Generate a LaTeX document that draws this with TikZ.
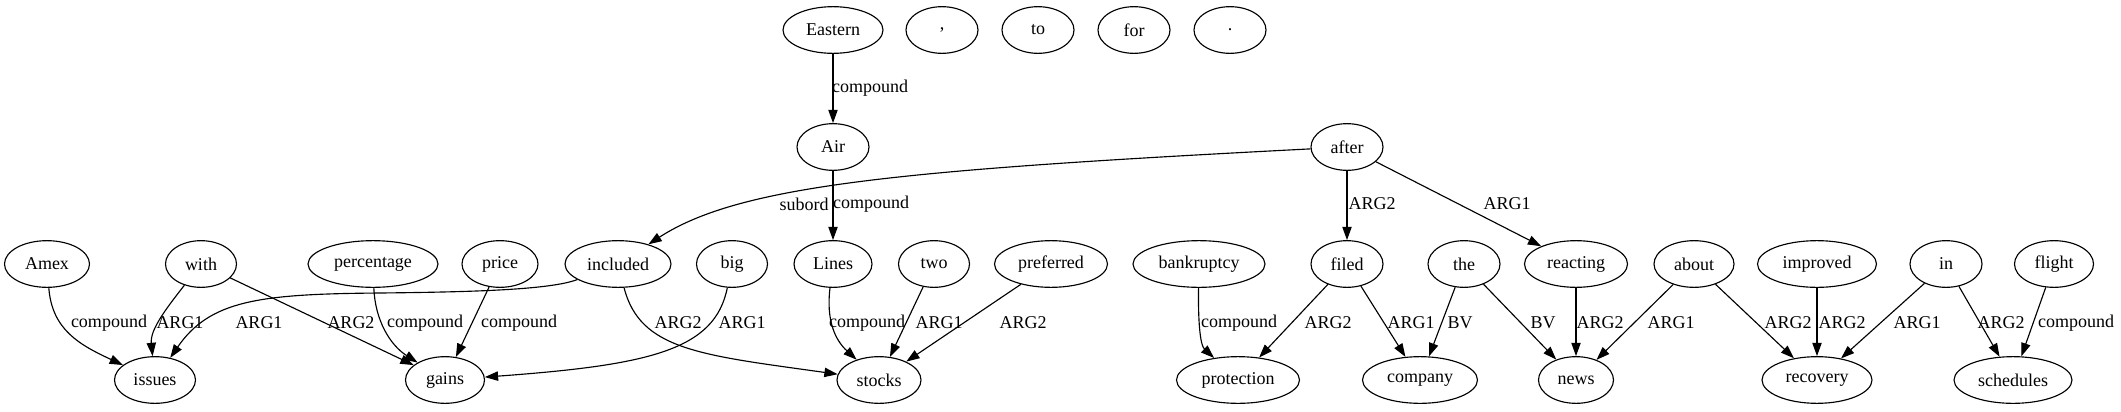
\documentclass[tikz,border=0pt]{standalone}
\usepackage{fontspec}
\setmainfont{Liberation Serif}
\usetikzlibrary{shapes.geometric,arrows.meta}
\begin{document}
\begin{tikzpicture}[x=0.75pt,y=-0.75pt,
  tok/.style={ellipse,draw,line width=0.85pt,minimum height=35pt,minimum width=0.75pt*#1,
    inner xsep=-20pt,inner ysep=-6pt,font=\fontsize{13.5}{16}\selectfont},
  tok/.default=72,
  e/.style={draw,line width=0.85pt,-{Triangle[length=10pt,width=7pt]}},
  lbl/.style={inner sep=0pt,font=\fontsize{13.5}{16}\selectfont}]
\useasboundingbox (0,0) rectangle (2121,411);
% top row
\node[tok=100] (Eastern) at (833,30) {Eastern};
\node[tok] (comma) at (942,30) {,};
\node[tok] (to) at (1038,30) {to};
\node[tok] (for) at (1134,30) {for};
\node[tok] (dot) at (1230,30) {.};
% second row
\node[tok] (Air) at (833,147) {Air};
\node[tok] (after) at (1347,147) {after};
% middle row
\node[tok=85] (Amex) at (47,264) {Amex};
\node[tok=71] (with) at (201,264) {with};
\node[tok=130] (percentage) at (373,264) {percentage};
\node[tok=76] (price) at (500,264) {price};
\node[tok=106] (included) at (618,264) {included};
\node[tok=71] (big) at (732,264) {big};
\node[tok=78] (Lines) at (833,264) {Lines};
\node[tok=71] (two) at (934,264) {two};
\node[tok=113] (preferred) at (1051,264) {preferred};
\node[tok=132] (bankruptcy) at (1199,264) {bankruptcy};
\node[tok] (filed) at (1347,264) {filed};
\node[tok] (the) at (1464,264) {the};
\node[tok=103] (reacting) at (1576,264) {reacting};
\node[tok=80] (about) at (1694,264) {about};
\node[tok=119] (improved) at (1817,264) {improved};
\node[tok] (in) at (1946,264) {in};
\node[tok=79] (flight) at (2054,264) {flight};
% bottom row
\node[tok=81] (issues) at (155,380) {issues};
\node[tok=79] (gains) at (445,380) {gains};
\node[tok=84] (stocks) at (879,380) {stocks};
\node[tok=123] (protection) at (1238,380) {protection};
\node[tok=115] (company) at (1420,380) {company};
\node[tok=75] (news) at (1576,380) {news};
\node[tok=110] (recovery) at (1817,380) {recovery};
\node[tok=118] (schedules) at (2013,380) {schedules};
% edges
\draw[e] (Eastern) -- (Air);
\draw[e] (Air) -- (Lines);
\draw[e] (after) .. controls (900,170) and (740,185) .. (included);
\draw[e] (after) -- (filed);
\draw[e] (after) -- (reacting);
\draw[e] (Amex) .. controls (52,330) and (80,345) .. (issues);
\draw[e] (with) .. controls (165,310) and (150,330) .. (issues);
\draw[e] (with) -- (gains);
\draw[e] (included) .. controls (550,290) and (470,292) .. (380,293) .. controls (260,294) and (210,300) .. (issues);
\draw[e] (included) .. controls (640,350) and (700,355) .. (stocks);
\draw[e] (percentage) .. controls (375,320) and (390,345) .. (gains);
\draw[e] (price) -- (gains);
\draw[e] (big) .. controls (715,350) and (650,365) .. (gains);
\draw[e] (Lines) .. controls (826,320) and (835,340) .. (stocks);
\draw[e] (two) -- (stocks);
\draw[e] (preferred) -- (stocks);
\draw[e] (bankruptcy) .. controls (1198,320) and (1200,345) .. (protection);
\draw[e] (filed) -- (protection);
\draw[e] (filed) -- (company);
\draw[e] (the) -- (company);
\draw[e] (the) -- (news);
\draw[e] (reacting) -- (news);
\draw[e] (about) -- (news);
\draw[e] (about) -- (recovery);
\draw[e] (improved) -- (recovery);
\draw[e] (in) -- (recovery);
\draw[e] (in) -- (schedules);
\draw[e] (flight) -- (schedules);
% labels
\node[lbl] (l1) at (870,88) {compound};
\node[lbl] (l2) at (804,204) {subord};
\node[lbl] (l3) at (871,204) {compound};
\node[lbl] (l4) at (1372,204) {ARG2};
\node[lbl] (l5) at (1507,204) {ARG1};
\node[lbl] (l6) at (109,323) {compound};
\node[lbl] (l7) at (180,323) {ARG1};
\node[lbl] (l8) at (259,323) {ARG1};
\node[lbl] (l9) at (351,323) {ARG2};
\node[lbl] (l10) at (425,323) {compound};
\node[lbl] (l11) at (519,323) {compound};
\node[lbl] (l12) at (678,323) {ARG2};
\node[lbl] (l13) at (742,323) {ARG1};
\node[lbl] (l14) at (867,323) {compound};
\node[lbl] (l15) at (939,323) {ARG1};
\node[lbl] (l16) at (1023,323) {ARG2};
\node[lbl] (l17) at (1239,323) {compound};
\node[lbl] (l18) at (1328,323) {ARG2};
\node[lbl] (l19) at (1411,323) {ARG1};
\node[lbl] (l20) at (1460,323) {BV};
\node[lbl] (l21) at (1543,323) {BV};
\node[lbl] (l22) at (1600,323) {ARG2};
\node[lbl] (l23) at (1671,323) {ARG1};
\node[lbl] (l24) at (1788,323) {ARG2};
\node[lbl] (l25) at (1842,323) {ARG2};
\node[lbl] (l26) at (1917,323) {ARG1};
\node[lbl] (l27) at (2001,323) {ARG2};
\node[lbl] (l28) at (2076,323) {compound};
\end{tikzpicture}
\end{document}
